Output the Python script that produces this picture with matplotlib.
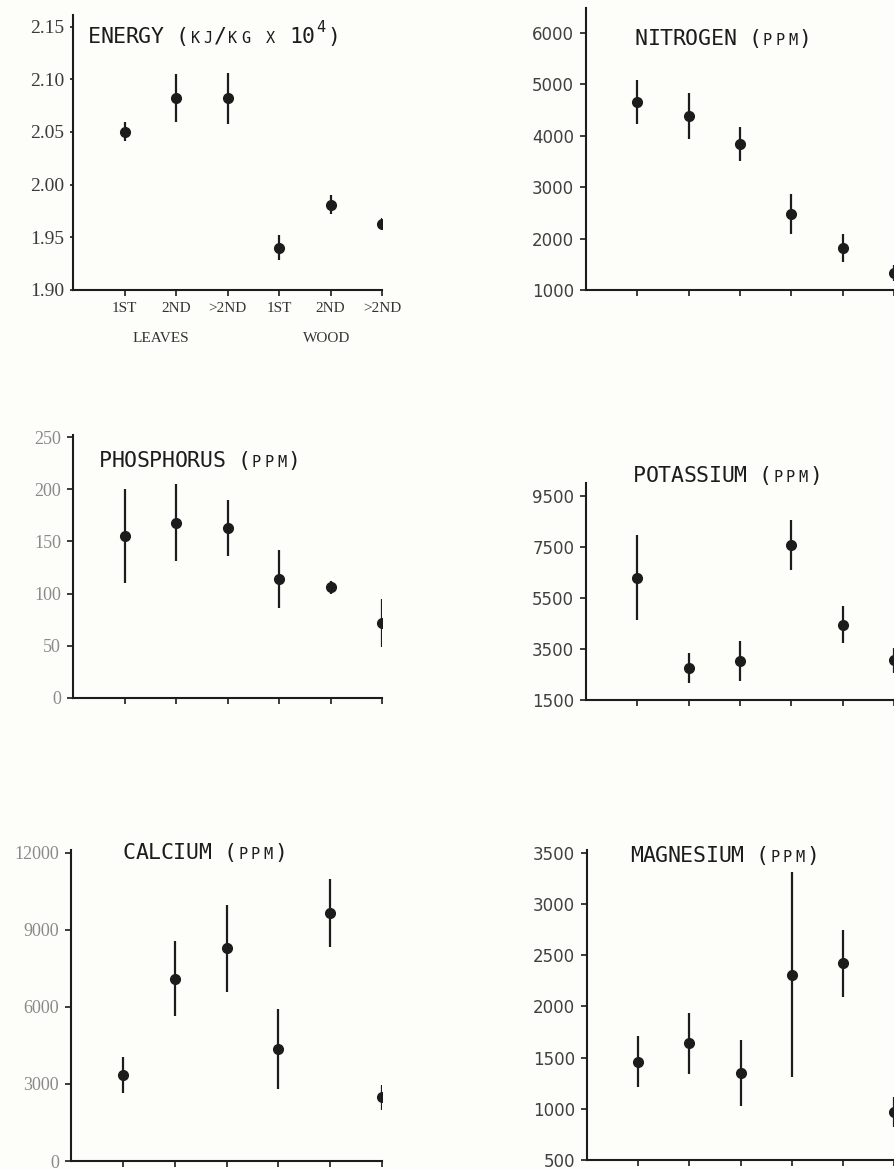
import matplotlib
matplotlib.use("Agg")
import matplotlib.pyplot as plt
from matplotlib.ticker import FormatStrFormatter

W, H, DPI = 894, 1170, 100
INK = "#1c1c1c"
CELL = 12.6  # width of one character cell of the line-printer titles, px

stages = ["1ST", "2ND", ">2ND", "1ST", "2ND", ">2ND"]
tissues = ["LEAVES", "WOOD"]
tissue_pos = [1.71, 4.93]

energy = [2.050, 2.082, 2.082, 1.940, 1.981, 1.963]
energy_err = [0.009, 0.023, 0.024, 0.012, 0.009, 0.005]

nitrogen = [4650, 4380, 3840, 2480, 1820, 1330]
nitrogen_err = [430, 450, 330, 390, 270, 150]

phosphorus = [155, 168, 163, 114, 106, 72]
phosphorus_err = [45, 37, 27, 28, 6, 23]

potassium = [6300, 2750, 3030, 7580, 4460, 3050]
potassium_err = [1660, 600, 790, 990, 740, 500]

calcium = [3350, 7100, 8280, 4380, 9660, 2480]
calcium_err = [700, 1470, 1690, 1560, 1330, 500]

magnesium = [1460, 1640, 1350, 2310, 2420, 970]
magnesium_err = [250, 300, 320, 1000, 330, 150]

fig = plt.figure(figsize=(W / DPI, H / DPI), dpi=DPI, facecolor="#fdfdf9")


def panel(left, top, right, bottom, ylim, yticks, means, errs, serif, label_color):
    ax = fig.add_axes([left / W, 1 - bottom / H, (right - left) / W, (bottom - top) / H])
    ax.set_facecolor("none")
    ax.errorbar(range(1, 7), means, yerr=errs, fmt="o", ms=7, color=INK,
                elinewidth=1.6, capsize=0)
    ax.set_xlim(0, 6)
    ax.set_ylim(*ylim)
    ax.set_xticks(range(1, 7))
    ax.set_xticklabels([])
    ax.set_yticks(yticks)
    for s in ["top", "right"]:
        ax.spines[s].set_visible(False)
    for s in ["left", "bottom"]:
        ax.spines[s].set_linewidth(1.5)
        ax.spines[s].set_color(INK)
    ax.tick_params(direction="out", length=4, width=1.2, color=INK,
                   labelcolor=label_color, labelsize=13 if serif else 12)
    ax.tick_params(axis="y", pad=4.5)
    for lab in ax.get_yticklabels():
        lab.set_family("Liberation Serif" if serif else "DejaVu Sans")
    return ax


def title(x, baseline, text):
    # monospaced grid; lowercase = small caps, '^' = next char superscript
    sup = False
    for ch in text:
        if ch == "^":
            sup = True
            continue
        if ch != " ":
            if sup:
                size, rise, glyph = 11, 11, ch
            elif ch.islower():
                size, rise, glyph = 11, 0, ch.upper()
            else:
                size, rise, glyph = 15.5, 0, ch
            fig.text((x + CELL / 2) / W, 1 - (baseline - rise) / H, glyph,
                     ha="center", va="baseline", fontsize=size,
                     family="DejaVu Sans Mono", color=INK)
        x += CELL
        sup = False


# energy
ax = panel(73, 15, 382, 290, (1.90, 2.161), [1.90, 1.95, 2.00, 2.05, 2.10, 2.15],
           energy, energy_err, True, "#3a3a3a")
ax.yaxis.set_major_formatter(FormatStrFormatter("%.2f"))
for lab in ax.get_yticklabels():
    lab.set_family("Liberation Serif")
ax.tick_params(axis="y", length=2, labelsize=14)
ax.set_xticklabels(stages, family="Liberation Serif", fontsize=11, color="#333333")
ax.tick_params(axis="x", pad=5)
for name, pos in zip(tissues, tissue_pos):
    ax.text(pos, -0.178, name, transform=ax.get_xaxis_transform(), ha="center",
            va="center", family="Liberation Serif", fontsize=11, color="#333333")
title(88, 43, "ENERGY (kj/kg x 10^4)")

# nitrogen
panel(586, 8, 894, 290, (1000, 6486), [1000, 2000, 3000, 4000, 5000, 6000],
      nitrogen, nitrogen_err, False, "#404040")
title(635, 45, "NITROGEN (ppm)")

# phosphorus
panel(73, 435, 382, 698, (0, 252), [0, 50, 100, 150, 200, 250],
      phosphorus, phosphorus_err, True, "#8a8a8a")
title(99, 467, "PHOSPHORUS (ppm)")

# potassium
panel(586, 483, 894, 700, (1500, 10010), [1500, 3500, 5500, 7500, 9500],
      potassium, potassium_err, False, "#404040")
title(633, 482, "POTASSIUM (ppm)")

# calcium
panel(71, 850, 382, 1161, (0, 12115), [0, 3000, 6000, 9000, 12000],
      calcium, calcium_err, True, "#8a8a8a")
title(123, 859, "CALCIUM (ppm)")

# magnesium
panel(587, 850, 894, 1160, (500, 3529), [500, 1000, 1500, 2000, 2500, 3000, 3500],
      magnesium, magnesium_err, False, "#404040")
title(630, 862, "MAGNESIUM (ppm)")

fig.savefig("out.png", dpi=DPI, facecolor=fig.get_facecolor())
